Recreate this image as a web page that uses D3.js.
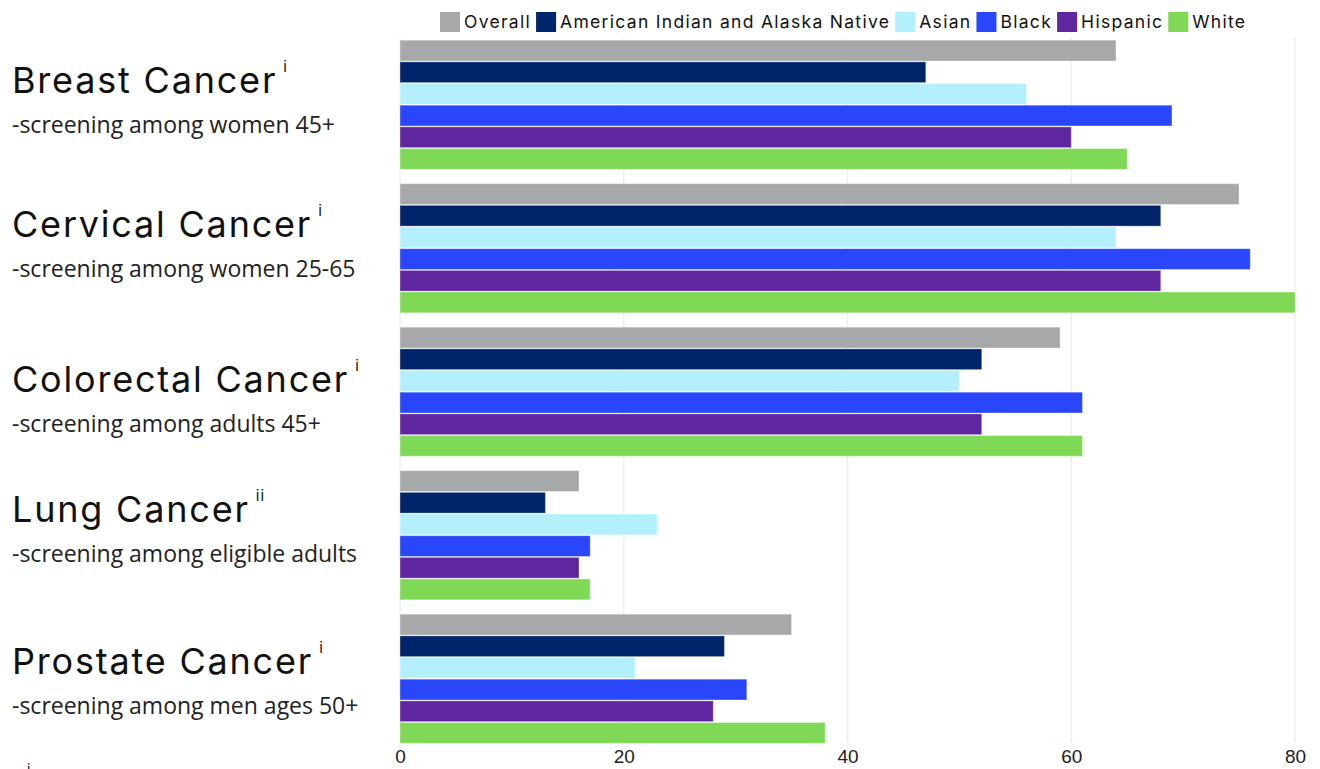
<!DOCTYPE html>
<html>
<head>
<meta charset="utf-8">
<script src="https://cdn.jsdelivr.net/npm/d3@7"></script>
<style>
  body { margin: 0; background: #fff; }
  svg { display: block; }
</style>
</head>
<body>
<svg id="viz" width="1320" height="769"></svg>
<script>
// data
var cancers = ["Breast Cancer", "Cervical Cancer", "Colorectal Cancer", "Lung Cancer", "Prostate Cancer"];
var notes = ["i", "i", "i", "ii", "i"];
var subtitles = [
  "-screening among women 45+",
  "-screening among women 25-65",
  "-screening among adults 45+",
  "-screening among eligible adults",
  "-screening among men ages 50+"
];
var groups = ["Overall", "American Indian and Alaska Native", "Asian", "Black", "Hispanic", "White"];
var overall  = [64, 75, 59, 16, 35];
var aian     = [47, 68, 52, 13, 29];
var asian    = [56, 64, 50, 23, 21];
var black    = [69, 76, 61, 17, 31];
var hispanic = [60, 68, 52, 16, 28];
var white    = [65, 80, 61, 17, 38];
var ticks = [0, 20, 40, 60, 80];

var colors = ["#a7a8aa", "#00256a", "#b3f0fb", "#2946fa", "#5e27a0", "#7fd957"];
// small nudges so the left labels sit like the original
var labelShift = [0, 0, 12, -2, 7];

(function() {
    var series = [overall, aian, asian, black, hispanic, white];
    var rows = cancers.map(function(c, i) {
        return { cancer: c, values: groups.map(function(g, j) {
            return { group: g, value: series[j][i] };
        }) };
    });

    var svg = d3.select('svg#viz');

    var x = d3.scaleLinear().domain([0, 80]).range([400, 1295]);
    var y0 = d3.scaleBand().domain(cancers).range([33, 750.5])
        .paddingInner(0.1).paddingOuter(0.05);
    var y1 = d3.scaleBand().domain(groups).range([0, y0.bandwidth()]).paddingInner(0.04);
    var color = d3.scaleOrdinal().domain(groups).range(colors);

    // grid
    svg.append('g').selectAll('line').data(ticks).enter()
        .append('line')
        .attr('x1', function(d) { return x(d); })
        .attr('x2', function(d) { return x(d); })
        .attr('y1', 38)
        .attr('y2', 743)
        .attr('stroke', '#efefef')
        .attr('stroke-width', 1.5);

    // bars
    var g = svg.append('g').selectAll('g').data(rows).enter()
        .append('g')
        .attr('transform', function(d) { return 'translate(0,' + y0(d.cancer) + ')'; });

    g.selectAll('rect').data(function(d) { return d.values; }).enter()
        .append('rect')
        .attr('x', x(0))
        .attr('y', function(d) { return y1(d.group); })
        .attr('width', function(d) { return x(d.value) - x(0); })
        .attr('height', y1.bandwidth())
        .attr('fill', function(d) { return color(d.group); })
        .attr('stroke', 'rgba(255,255,255,0.35)')
        .attr('stroke-width', 1);

    // x axis labels
    var xAxis = d3.axisBottom(x).tickValues(ticks).tickSize(0).tickPadding(0);
    var ax = svg.append('g').attr('transform', 'translate(0,749)').call(xAxis);
    ax.select('.domain').remove();
    ax.selectAll('text')
        .attr('font-family', 'Liberation Sans, Arial, sans-serif')
        .attr('font-size', 19)
        .attr('fill', '#222');

    // left labels
    var lab = svg.append('g').selectAll('g').data(cancers).enter()
        .append('g')
        .attr('transform', function(d, i) { return 'translate(12,' + (y0(d) + labelShift[i]) + ')'; });

    var title = lab.append('text')
        .attr('y', 53)
        .attr('font-family', 'Inter, sans-serif')
        .attr('font-size', 36)
        .attr('letter-spacing', 1.8)
        .attr('fill', '#111')
        .text(function(d) { return d; });

    title.each(function(d, i) {
        var w = this.getComputedTextLength();
        d3.select(this.parentNode).append('text')
            .attr('x', w + 6)
            .attr('y', 32)
            .attr('font-family', 'Inter, sans-serif')
            .attr('font-size', 15)
            .attr('letter-spacing', 1)
            .attr('fill', '#111')
            .text(notes[i]);
    });

    lab.append('text')
        .attr('y', 93)
        .attr('font-family', 'Open Sans, Noto Sans, sans-serif')
        .attr('font-size', 23)
        .attr('fill', '#222')
        .text(function(d, i) { return subtitles[i]; });

    // legend
    var leg = svg.append('g').attr('transform', 'translate(440,12)');
    var lx = 0;
    groups.forEach(function(name, i) {
        leg.append('rect')
            .attr('x', lx).attr('y', 0)
            .attr('width', 20).attr('height', 20)
            .attr('fill', colors[i]);
        var t = leg.append('text')
            .attr('x', lx + 24).attr('y', 16)
            .attr('font-family', 'Inter, sans-serif')
            .attr('font-size', 17.5)
            .attr('letter-spacing', 1.3)
            .attr('fill', '#111')
            .text(name);
        lx += 24 + t.node().getComputedTextLength() + 5;
    });

    // footnote mark, mostly cut off
    svg.append('text')
        .attr('x', 27).attr('y', 774)
        .attr('font-family', 'Inter, sans-serif')
        .attr('font-size', 14)
        .attr('fill', '#111')
        .text('i');
})();
</script>
</body>
</html>
